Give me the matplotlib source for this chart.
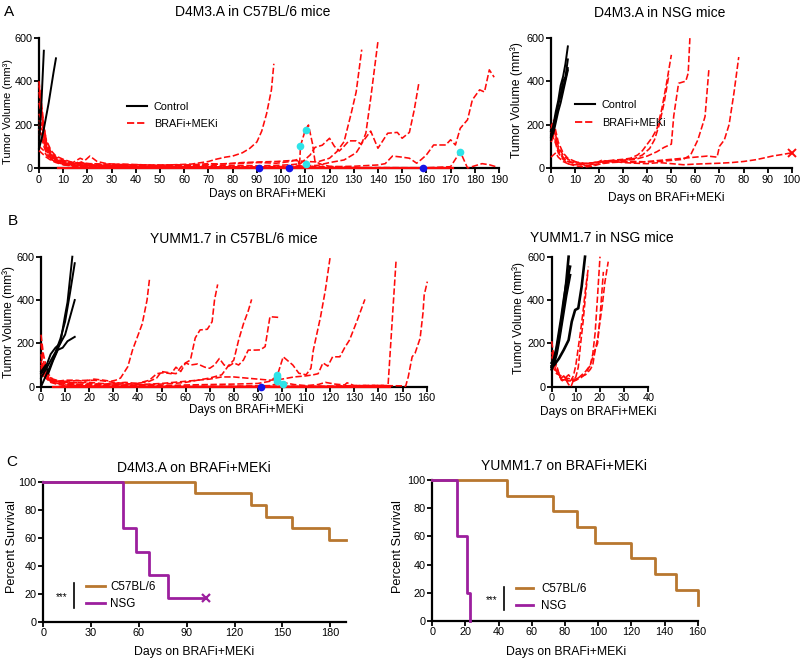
import matplotlib
matplotlib.use('Agg')
import matplotlib.pyplot as plt
from matplotlib.lines import Line2D

plt.rcParams['font.family'] = ['Liberation Sans', 'DejaVu Sans']

W, H = 800, 659
RED = '#FF0A0A'
CYAN = '#2EE3E8'
BLUE = '#1414E6'
BROWN = '#B8772F'
PURPLE = '#9C1F9E'
DASH = (0, (4.0, 1.6))

# ---------------- Panel A left: D4M3.A in C57BL/6 ----------------
a1_ctrl = [
    ([0, 1, 2], [100, 300, 540]),
    ([0, 1, 2, 3, 4, 5, 6, 7], [90, 130, 180, 240, 300, 370, 440, 505]),
]
a1_trt = [
    ([0, 1, 2, 3, 5, 7, 10, 14, 17, 19, 21, 24, 28, 35, 42, 49, 56, 63, 70, 73, 77, 80, 84, 87, 90, 92, 94, 96, 97],
     [380, 300, 200, 120, 70, 50, 35, 25, 45, 35, 55, 30, 20, 15, 15, 12, 15, 18, 30, 40, 50, 55, 70, 90, 120, 170, 250, 360, 480]),
    ([0, 1, 2, 3, 5, 7, 10, 14, 21, 28, 35, 42, 49, 56, 63, 70, 77, 84, 91, 98, 104, 107, 107.6, 108, 110, 111.3, 113, 114, 117, 120, 125, 130],
     [250, 220, 160, 110, 60, 40, 25, 15, 10, 12, 10, 8, 10, 12, 15, 20, 18, 22, 25, 22, 30, 40, 5, 102, 175, 198, 110, 30, 15, 8, 5, 2]),
    ([0, 1, 2, 3, 5, 7, 10, 14, 21, 28, 35, 42, 49, 56, 63, 70, 77, 84, 91, 98, 105, 110, 115, 120, 123, 126, 129, 131, 133.3],
     [200, 180, 140, 90, 55, 35, 30, 20, 18, 15, 18, 15, 12, 15, 12, 15, 20, 25, 28, 30, 35, 30, 28, 45, 75, 121, 254, 350, 545]),
    ([0, 1, 2, 3, 5, 7, 10, 14, 21, 28, 35, 42, 49, 56, 63, 70, 77, 84, 91, 98, 105, 110, 115, 120, 126, 131, 133, 135, 137, 140],
     [150, 160, 120, 80, 40, 30, 20, 12, 10, 8, 6, 5, 5, 5, 4, 5, 6, 5, 4, 6, 8, 10, 12, 25, 37, 70, 105, 160, 320, 583]),
    ([0, 1, 2, 3, 5, 7, 10, 14, 17, 21, 28, 35, 42, 49, 56, 63, 70, 77, 84, 91, 98, 104, 108, 110, 112, 114, 117, 120, 122, 124, 126, 128, 131, 133, 137, 140, 144, 148, 150, 153, 155, 157],
     [300, 250, 180, 120, 70, 45, 30, 20, 25, 20, 18, 15, 12, 14, 12, 10, 12, 10, 12, 10, 12, 15, 20, 40, 60, 95, 105, 137, 100, 78, 100, 125, 125, 110, 170, 91, 160, 164, 137, 164, 268, 398]),
    ([0, 1, 2, 3, 5, 7, 10, 14, 21, 28, 35, 42, 49, 56, 63, 70, 80, 90, 100, 110, 120, 130, 140, 143, 146, 150, 153, 156, 158, 160, 163, 168, 170, 172, 174, 177, 179, 182, 184, 186, 188],
     [100, 90, 80, 60, 40, 28, 20, 15, 12, 10, 8, 7, 6, 5, 5, 5, 4, 3, 4, 5, 6, 8, 14, 20, 55, 50, 45, 22, 40, 60, 106, 106, 130, 106, 183, 222, 314, 360, 350, 452, 418]),
    ([0, 1, 2, 3, 5, 7, 10, 14, 21, 28, 35, 42, 60, 80, 100, 120, 140, 160, 170, 174, 177, 183, 186, 189],
     [80, 70, 60, 50, 35, 25, 15, 10, 5, 4, 3, 2, 2, 1, 2, 1, 2, 1, 6, 75, 0, 20, 15, 5]),
    ([0, 1, 2, 3, 5, 7, 10, 14, 21, 28, 35, 42, 49, 56, 63, 91],
     [400, 280, 190, 130, 80, 55, 40, 25, 12, 8, 5, 3, 2, 1, 0, 0]),
    ([0, 1, 2, 3, 5, 7, 10, 14, 21, 28, 35, 49, 70, 90, 103],
     [350, 260, 170, 100, 60, 35, 20, 12, 8, 5, 3, 2, 1, 0, 0]),
    ([0, 1, 2, 3, 5, 7, 10, 14, 21, 35, 60, 100, 130, 158.8],
     [220, 200, 150, 100, 50, 30, 15, 8, 4, 2, 1, 0, 0, 0]),
    ([0, 1, 2, 3, 5, 7, 10, 14, 17, 19, 21, 28, 42, 63, 90, 105, 110, 113, 116, 130],
     [120, 130, 110, 90, 60, 40, 25, 18, 30, 20, 15, 12, 8, 5, 3, 5, 17, 8, 0, 0]),
    ([0, 1, 2, 3, 5, 7, 10, 14, 21, 28, 42, 70, 100, 120],
     [180, 150, 100, 70, 45, 30, 20, 15, 10, 8, 5, 3, 2, 0]),
]
a1_zero = ([8, 171], [0, 0])
a1_cyan_days = [108, 110.3, 110.3, 174]
a1_cyan_vals = [102, 175, 17, 75]
a1_blue_days = [91, 103.4, 158.8]
a1_blue_vals = [0, 0, 0]

# ---------------- Panel A right: D4M3.A in NSG ----------------
a2_ctrl = [
    ([0, 1, 2, 3, 4, 5, 6, 7], [150, 200, 260, 310, 380, 420, 480, 560]),
    ([0, 1, 2, 3, 4, 5, 6, 7], [130, 180, 240, 290, 340, 400, 420, 500]),
    ([0, 1, 2, 3, 4, 5, 6, 7], [170, 190, 230, 300, 330, 370, 410, 460]),
    ([0, 1, 2, 3, 4, 5, 6, 7], [140, 160, 210, 260, 300, 350, 400, 450]),
]
a2_trt = [
    ([0, 1, 2, 3, 5, 7, 9, 12, 15, 18, 21, 25, 30, 33, 36, 38, 40, 42, 44, 46, 48, 50],
     [200, 180, 150, 100, 60, 40, 30, 25, 20, 25, 30, 35, 40, 45, 60, 80, 110, 140, 180, 270, 390, 521]),
    ([0, 1, 2, 3, 5, 7, 9, 12, 15, 18, 21, 25, 30, 35, 38, 41, 43, 45, 47, 49],
     [180, 220, 170, 120, 70, 45, 35, 20, 10, 20, 35, 30, 35, 45, 60, 90, 130, 200, 300, 430]),
    ([0, 1, 2, 3, 5, 7, 10, 14, 18, 22, 26, 30, 35, 40, 44, 47, 50, 51, 53, 56, 57, 57.7],
     [160, 190, 140, 90, 50, 30, 20, 10, 15, 25, 30, 35, 40, 55, 75, 95, 110, 240, 390, 400, 437, 598]),
    ([0, 1, 2, 3, 5, 7, 10, 14, 18, 22, 26, 30, 35, 40, 45, 50, 55, 58, 61, 63, 64, 65.6],
     [130, 150, 120, 80, 45, 30, 25, 20, 25, 30, 35, 30, 30, 28, 30, 35, 40, 60, 129, 200, 237, 455]),
    ([0, 1, 2, 3, 5, 7, 10, 14, 17, 21, 25, 30, 35, 40, 45, 50, 55, 60, 65, 69, 70, 72, 74, 76, 78],
     [120, 140, 110, 70, 40, 20, 10, 5, 8, 20, 25, 28, 25, 30, 35, 40, 45, 50, 55, 50, 100, 129, 200, 345, 511]),
    ([0, 1, 2, 3, 5, 7, 10, 14, 18, 22, 26, 30, 35, 40, 45, 50, 55, 60, 65, 70, 75, 80, 85, 88, 92, 96, 100],
     [50, 60, 70, 50, 30, 20, 15, 20, 25, 28, 30, 25, 22, 20, 25, 20, 15, 18, 20, 22, 25, 30, 38, 45, 55, 62, 70]),
]
a2_x_days = [100]
a2_x_vals = [70]

# ---------------- Panel B left: YUMM1.7 in C57BL/6 ----------------
b1_ctrl = [
    ([0, 2, 4, 6, 8, 10, 11, 13], [60, 90, 150, 180, 200, 330, 390, 600]),
    ([0, 2, 4, 6, 8, 10, 12, 14], [40, 80, 120, 160, 220, 300, 430, 570]),
    ([0, 2, 4, 6, 8, 10, 12, 14], [0, 50, 100, 150, 200, 240, 320, 400]),
    ([0, 2, 3, 5, 7, 9, 11, 14], [70, 100, 60, 120, 170, 180, 210, 230]),
]
b1_trt = [
    ([0, 1, 2, 3, 5, 7, 10, 14, 18, 22, 26, 29, 31, 33, 36, 38, 40, 42, 44, 45],
     [200, 120, 70, 50, 30, 25, 30, 30, 25, 35, 30, 25, 30, 40, 92, 170, 230, 290, 400, 495]),
    ([0, 1, 2, 4, 7, 10, 15, 20, 25, 30, 35, 40, 45, 48, 50, 53, 56, 58, 60, 62, 64, 66, 69, 71, 72, 73.3],
     [100, 80, 60, 30, 20, 15, 10, 8, 10, 15, 20, 15, 25, 40, 70, 65, 60, 90, 110, 123, 225, 262, 265, 300, 400, 472]),
    ([0, 1, 3, 5, 8, 12, 16, 20, 25, 30, 35, 40, 45, 50, 55, 60, 65, 70, 75, 78, 80, 82, 84, 86, 87.4],
     [150, 90, 50, 35, 25, 20, 18, 15, 12, 10, 8, 8, 10, 12, 15, 20, 30, 40, 55, 100, 123, 215, 290, 350, 403]),
    ([0, 2, 5, 10, 15, 20, 25, 30, 35, 40, 45, 48, 51, 54, 56, 58, 60, 62, 65, 68, 70, 72, 74, 76, 78, 80, 82, 84, 86, 89, 91, 93, 95, 98.5],
     [80, 40, 25, 20, 18, 20, 15, 12, 12, 15, 30, 60, 65, 60, 90, 70, 110, 100, 105, 90, 85, 100, 130, 100, 95, 110, 100, 123, 169, 169, 170, 185, 323, 320]),
    ([0, 1, 2, 3, 5, 8, 12, 16, 20, 30, 40, 50, 60, 70, 80, 90, 95, 98, 100.5, 104.5, 107, 110, 112, 113, 116, 118, 120],
     [240, 150, 100, 60, 30, 20, 15, 10, 8, 5, 5, 5, 8, 10, 12, 15, 25, 50, 138, 100, 62, 55, 85, 169, 323, 446, 600]),
    ([0, 1, 2, 4, 7, 10, 15, 20, 25, 30, 35, 40, 45, 50, 55, 60, 65, 70, 75, 80, 85, 90, 95, 100, 105, 110, 113, 115, 117, 119, 121, 124, 126, 128, 131, 134.4],
     [120, 80, 50, 30, 25, 25, 28, 30, 28, 20, 15, 10, 12, 15, 20, 25, 30, 35, 45, 45, 40, 35, 30, 35, 45, 50, 55, 60, 110, 95, 138, 138, 180, 215, 300, 403]),
    ([0, 1, 2, 4, 7, 10, 15, 20, 30, 40, 60, 80, 100, 120, 130, 135, 140, 144, 147.3],
     [90, 60, 40, 20, 10, 5, 3, 2, 2, 2, 1, 1, 2, 3, 5, 6, 6, 5, 577]),
    ([0, 1, 2, 4, 7, 10, 20, 40, 60, 80, 100, 120, 130, 140, 150, 151.3, 152.4, 154, 155.2, 157.3, 158.5, 159, 160.3],
     [60, 50, 40, 25, 15, 8, 3, 2, 1, 1, 2, 2, 3, 5, 4, 2, 46, 138, 154, 223, 340, 423, 485]),
    ([0, 2, 5, 10, 20, 40, 60, 80, 95, 100, 105, 110, 115, 118, 122, 126, 127, 130, 135, 140, 143],
     [100, 50, 20, 10, 5, 3, 2, 2, 5, 20, 10, 5, 10, 20, 12, 8, 18, 5, 5, 5, 5]),
]
b1_zero = ([5, 145], [0, 0])
b1_cyan_days = [98, 98, 98, 98, 100.5]
b1_cyan_vals = [55, 45, 35, 25, 14]
b1_blue_days = [91.2]
b1_blue_vals = [0]

# ---------------- Panel B right: YUMM1.7 in NSG ----------------
b2_ctrl = [
    ([0, 1, 2, 3, 4, 5, 6, 7], [90, 120, 170, 230, 300, 380, 480, 600]),
    ([0, 1, 2, 3, 4, 5, 6, 7.6], [110, 130, 180, 250, 320, 400, 470, 554]),
    ([0, 1, 2, 3, 4, 5, 6, 7.6], [80, 110, 150, 210, 280, 350, 420, 515]),
    ([0, 1, 3, 5, 7, 8.3, 9.7, 11, 12.4, 13.8], [95, 100, 130, 170, 215, 300, 354, 362, 462, 600]),
]
b2_trt = [
    ([0, 1, 2, 3, 4, 5, 6, 7, 8, 9, 10, 11, 12, 13, 14, 15.2],
     [210, 130, 100, 60, 30, 25, 40, 20, 30, 50, 100, 180, 260, 350, 450, 554]),
    ([0, 1, 2, 3, 4, 5, 6, 7, 8, 9, 10, 11, 12, 13, 14, 15],
     [160, 120, 90, 60, 40, 50, 30, 10, 0, 30, 45, 90, 200, 300, 420, 530]),
    ([0, 1, 2, 3, 4, 5, 6, 7, 8, 9, 10, 12, 14, 16, 17, 18, 19, 20],
     [120, 90, 70, 50, 35, 30, 45, 55, 40, 25, 30, 50, 70, 100, 150, 250, 420, 600]),
    ([0, 1, 2, 4, 6, 8, 10, 12, 14, 16, 17, 18, 19, 20, 21.4],
     [100, 80, 60, 50, 40, 35, 35, 45, 55, 80, 100, 170, 200, 320, 530]),
    ([0, 1, 2, 4, 6, 8, 10, 12, 14, 16, 18, 19, 20, 21, 22, 23.4],
     [140, 100, 70, 40, 30, 25, 30, 40, 60, 100, 170, 220, 300, 380, 480, 577]),
]

# ---------------- Panel C: survival ----------------
c1_b6_days = [0, 95, 130, 140, 156, 179, 190]
c1_b6_surv = [100, 91.7, 83.3, 75, 66.7, 58.3, 58.3]
c1_nsg_days = [0, 50, 58, 66, 78, 102]
c1_nsg_surv = [100, 66.7, 50, 33.3, 16.7, 16.7]
c2_b6_days = [0, 45, 73, 87, 98, 120, 134, 147, 160]
c2_b6_surv = [100, 88.9, 77.8, 66.7, 55.6, 44.4, 33.3, 22.2, 11.1]
c2_nsg_days = [0, 15, 21, 23]
c2_nsg_surv = [100, 60, 20, 0]

fig = plt.figure(figsize=(8, 6.59), dpi=100)


def ax_px(x0, x1, ytop, ybot):
    return fig.add_axes([x0 / W, 1 - ybot / H, (x1 - x0) / W, (ybot - ytop) / H])


def ftext(x, y, s, size, rot=0, **kw):
    fig.text(x / W, 1 - y / H, s, fontsize=size, ha='center', va='center', rotation=rot, **kw)


def style(ax, xlim, xticks, ylim, yticks, lsize=7.8):
    ax.set_xlim(xlim)
    ax.set_ylim(ylim)
    ax.set_xticks(xticks)
    ax.set_yticks(yticks)
    for s in ['top', 'right']:
        ax.spines[s].set_visible(False)
    for s in ['left', 'bottom']:
        ax.spines[s].set_linewidth(1.6)
    ax.tick_params(direction='out', length=3.5, width=1.3, labelsize=lsize, pad=1.2, colors='black')
    ax.patch.set_alpha(0)


def draw_growth(ax, ctrl, trt, clw=1.4):
    for d, v in trt:
        ax.plot(d, v, color=RED, lw=1.15, ls=DASH, clip_on=False, zorder=3)
    for d, v in ctrl:
        ax.plot(d, v, color='black', lw=clw, clip_on=False, zorder=4)


# A left
ax = ax_px(39, 499, 37.7, 168)
style(ax, (0, 190), range(0, 191, 10), (0, 600), [0, 200, 400, 600])
ax.plot(*a1_zero, color=RED, lw=1.6, clip_on=False, zorder=3)
draw_growth(ax, a1_ctrl, a1_trt)
ax.plot(a1_cyan_days, a1_cyan_vals, 'o', color=CYAN, ms=5.5, mec='none', clip_on=False, zorder=5)
ax.plot(a1_blue_days, a1_blue_vals, 'o', color=BLUE, ms=5.5, mec='none', clip_on=False, zorder=5)
h = [Line2D([], [], color='black', lw=1.5), Line2D([], [], color=RED, lw=1.3, ls=DASH)]
fig.legend(h, ['Control', 'BRAFi+MEKi'], loc='center left', bbox_to_anchor=(117 / W, 1 - 115.3 / H),
           frameon=False, fontsize=7.8, handlelength=1.9, handletextpad=0.6, labelspacing=0.7)
ftext(253, 12.5, 'D4M3.A in C57BL/6 mice', 10)
ftext(267, 193.5, 'Days on BRAFi+MEKi', 8.6)
ftext(8.5, 112, 'Tumor Volume (mm³)', 8.0, rot=90)

# A right
ax = ax_px(551, 791.7, 37.7, 168)
style(ax, (0, 100), range(0, 101, 10), (0, 600), [0, 200, 400, 600])
draw_growth(ax, a2_ctrl, a2_trt)
ax.plot(a2_x_days, a2_x_vals, 'x', color=RED, ms=6, mew=1.4, clip_on=False, zorder=5)
fig.legend(h, ['Control', 'BRAFi+MEKi'], loc='center left', bbox_to_anchor=(565 / W, 1 - 114 / H),
           frameon=False, fontsize=7.8, handlelength=1.9, handletextpad=0.6, labelspacing=0.7)
ftext(660, 13, 'D4M3.A in NSG mice', 10)
ftext(666, 198, 'Days on BRAFi+MEKi', 8.6)
ftext(516.5, 100, 'Tumor Volume (mm³)', 8.8, rot=90)

# B left
ax = ax_px(41, 426.6, 256.7, 386.7)
style(ax, (0, 160), range(0, 161, 10), (0, 600), [0, 200, 400, 600])
ax.plot(*b1_zero, color=RED, lw=1.6, clip_on=False, zorder=3)
draw_growth(ax, b1_ctrl, b1_trt)
ax.plot(b1_cyan_days, b1_cyan_vals, 'o', color=CYAN, ms=5.5, mec='none', clip_on=False, zorder=5)
ax.plot(b1_blue_days, b1_blue_vals, 'o', color=BLUE, ms=5.5, mec='none', clip_on=False, zorder=5)
ftext(234, 239, 'YUMM1.7 in C57BL/6 mice', 10)
ftext(246, 410, 'Days on BRAFi+MEKi', 8.4)
ftext(8.5, 322, 'Tumor Volume (mm³)', 8.6, rot=90)

# B right
ax = ax_px(551.7, 648.3, 256.7, 386.7)
style(ax, (0, 40), range(0, 41, 10), (0, 600), [0, 200, 400, 600])
draw_growth(ax, b2_ctrl, b2_trt, clw=1.9)
ftext(601.7, 238.5, 'YUMM1.7 in NSG mice', 10)
ftext(598, 412, 'Days on BRAFi+MEKi', 8.6)
ftext(518.5, 318, 'Tumor Volume (mm³)', 8.6, rot=90)

# C left
ax = ax_px(43.3, 346.2, 481.7, 621.7)
style(ax, (0, 190), range(0, 181, 30), (0, 100), range(0, 101, 20))
ax.step(c1_b6_days, c1_b6_surv, where='post', color=BROWN, lw=2.0, clip_on=False, zorder=4)
ax.step(c1_nsg_days, c1_nsg_surv, where='post', color=PURPLE, lw=2.0, clip_on=False, zorder=4)
ax.plot(c1_nsg_days[-1:], c1_nsg_surv[-1:], 'x', color=PURPLE, ms=6, mew=1.6, clip_on=False, zorder=5)
hc = [Line2D([], [], color=BROWN, lw=2.0), Line2D([], [], color=PURPLE, lw=2.0)]
fig.legend(hc, ['C57BL/6', 'NSG'], loc='center left', bbox_to_anchor=(75 / W, 1 - 595.5 / H),
           frameon=False, fontsize=8.4, handlelength=1.7, handletextpad=0.4, labelspacing=0.4)
fig.add_artist(Line2D([74 / W, 74 / W], [1 - 583 / H, 1 - 608 / H], color='black', lw=1.2))
ftext(62, 597, '***', 7)
ftext(194, 467.5, 'D4M3.A on BRAFi+MEKi', 10)
ftext(194, 651.5, 'Days on BRAFi+MEKi', 8.8)
ftext(12, 547, 'Percent Survival', 9.2, rot=90)

# C right
ax = ax_px(432.3, 697.7, 480.3, 620.7)
style(ax, (0, 160), range(0, 161, 20), (0, 100), range(0, 101, 20))
ax.step(c2_b6_days, c2_b6_surv, where='post', color=BROWN, lw=2.0, clip_on=False, zorder=4)
ax.step(c2_nsg_days, c2_nsg_surv, where='post', color=PURPLE, lw=2.0, clip_on=False, zorder=4)
fig.legend(hc, ['C57BL/6', 'NSG'], loc='center left', bbox_to_anchor=(505 / W, 1 - 597.5 / H),
           frameon=False, fontsize=8.4, handlelength=1.5, handletextpad=0.7, labelspacing=0.4)
fig.add_artist(Line2D([504.3 / W, 504.3 / W], [1 - 586.7 / H, 1 - 610 / H], color='black', lw=1.2))
ftext(491.7, 600, '***', 7)
ftext(564, 466.5, 'YUMM1.7 on BRAFi+MEKi', 10)
ftext(566, 651.5, 'Days on BRAFi+MEKi', 8.8)
ftext(398, 547, 'Percent Survival', 9.2, rot=90)

# panel letters
ftext(9, 12, 'A', 11)
ftext(13, 221, 'B', 11)
ftext(11.5, 461.5, 'C', 11)

fig.savefig('out.png', dpi=100)
